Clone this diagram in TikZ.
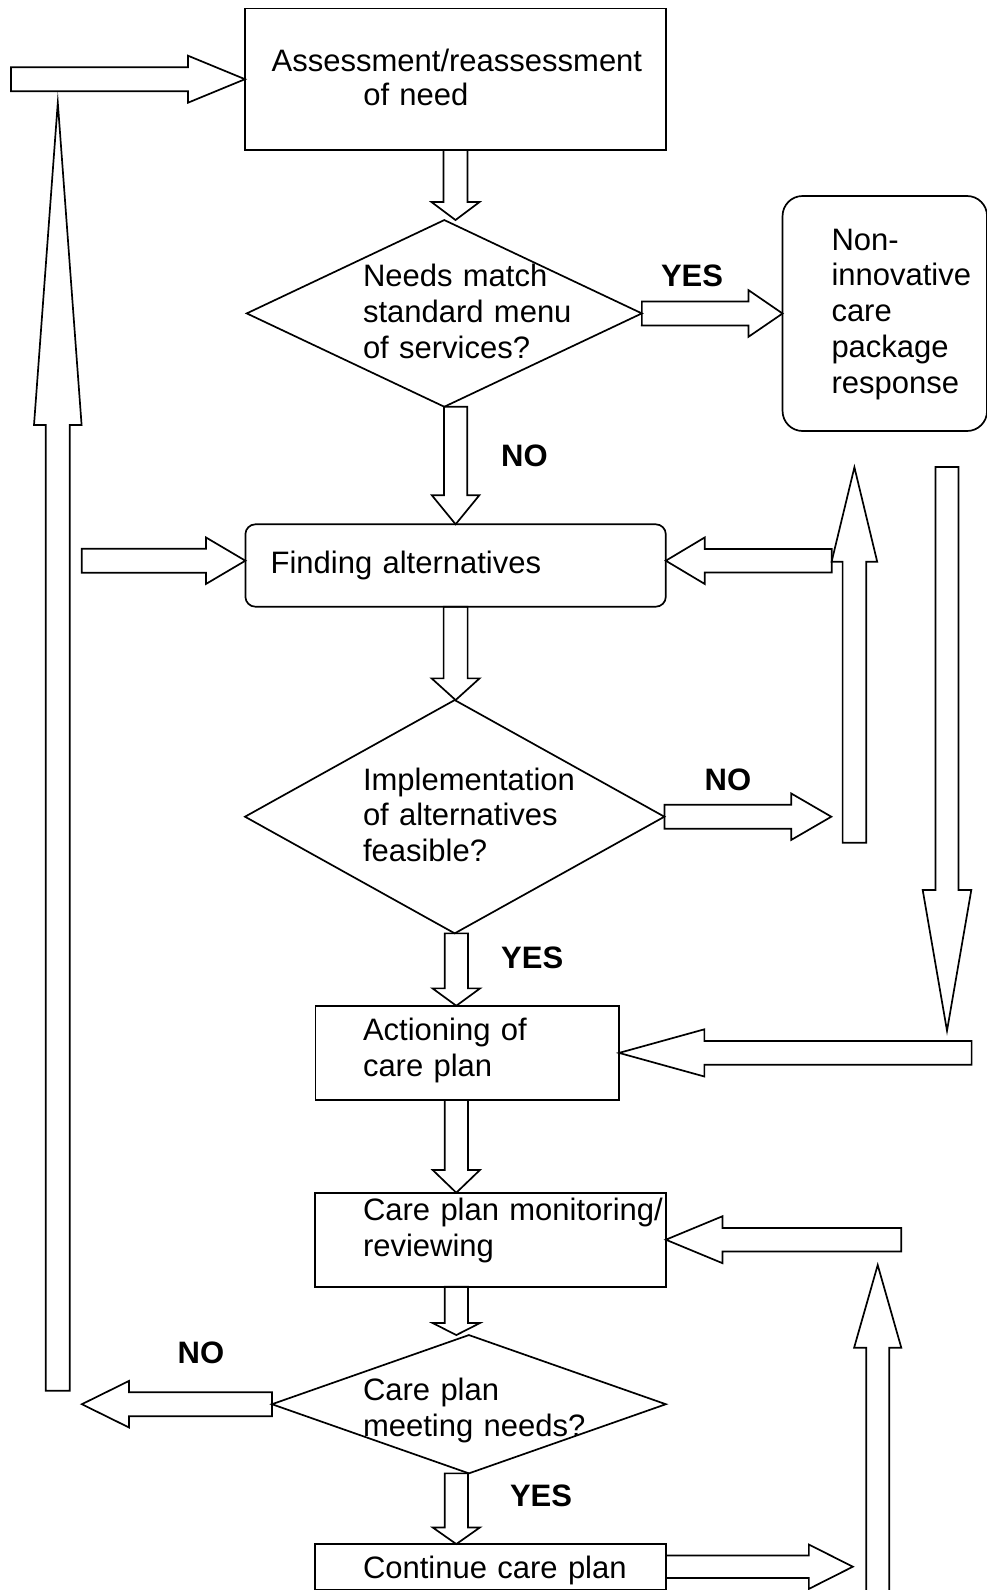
\documentclass[tikz,border=0pt]{standalone}
\usepackage{fontspec}
\setmainfont{Liberation Sans}
\usetikzlibrary{calc,shapes.geometric}

\tikzset{
  outline/.style={draw=black, line width=1.7pt, line join=miter, miter limit=25},
  plainbox/.style={outline, rectangle, inner sep=0pt, outer sep=0pt},
  roundbox/.style={plainbox, rounded corners=#1},
  decision/.style={outline, diamond, inner sep=0pt, outer sep=0pt},
  bodytext/.style={font=\fontsize{31}{36}\selectfont, inner sep=0pt, outer sep=0pt,
                   anchor=base west, align=left, text width=420pt},
  answer/.style={font=\bfseries\fontsize{31}{36}\selectfont, inner sep=0pt, anchor=base west},
}

% hollow block arrow: start, tip, shaft half-width, head half-width, head length
\newcommand\blockarrow[5]{%
  \path ($(#2)!#5pt!(#1)$) coordinate (headbase);
  \draw[outline] ($(#1)!#3pt!90:(#2)$) -- ($(headbase)!#3pt!90:(#2)$)
    -- ($(headbase)!#4pt!90:(#2)$) -- (#2) -- ($(headbase)!#4pt!-90:(#2)$)
    -- ($(headbase)!#3pt!-90:(#2)$) -- ($(#1)!#3pt!-90:(#2)$) -- cycle;}

\begin{document}
\begin{tikzpicture}[x=1pt, y=-1pt]
\useasboundingbox (0,0) rectangle (987,1590);

% process steps and decisions
\node[plainbox, minimum width=421pt, minimum height=141.7pt] (assess) at (455.5,79.2) {};
\node[decision, minimum width=395.1pt, minimum height=186.7pt] (match) at (444.3,313.4) {};
\node[roundbox=20pt, minimum width=204.5pt, minimum height=235pt] (noninnov) at (884.8,313.5) {};
\node[roundbox=10pt, minimum width=420.4pt, minimum height=82.4pt] (finding) at (455.6,565.5) {};
\node[decision, minimum width=419.4pt, minimum height=233.3pt] (feasible) at (454.7,816.7) {};
\node[plainbox, minimum width=303.5pt, minimum height=94.3pt] (action) at (467.3,1052.9) {};
\node[plainbox, minimum width=351.1pt, minimum height=94pt] (monitor) at (490.3,1239.7) {};
\node[decision, minimum width=393.9pt, minimum height=138.3pt] (meeting) at (468.9,1404.2) {};
\node[plainbox, minimum width=351.1pt, minimum height=45.3pt] (continue) at (490.3,1566.7) {};

% texts of the steps
\node[bodytext, font=\fontsize{31}{33.3}\selectfont] (assesstext) at (271.7,71.7)
  {Assessment/reassessment\\\hspace*{91.6pt}of need};
\node[bodytext, font=\fontsize{31}{35.8}\selectfont] (matchtext) at (363,286.7)
  {Needs match\\standard menu\\of services?};
\node[bodytext, font=\fontsize{31}{35.75}\selectfont] (noninnovtext) at (831.5,250)
  {Non-\\innovative\\care\\package\\response};
\node[bodytext] (findingtext) at (270.6,573.3) {Finding alternatives};
\node[bodytext, font=\fontsize{31}{35.8}\selectfont] (feasibletext) at (363,790)
  {Implementation\\of alternatives\\feasible?};
\node[bodytext, font=\fontsize{31}{36.7}\selectfont] (actiontext) at (363,1040)
  {Actioning of\\care plan};
\node[bodytext] (monitortext) at (363,1220) {Care plan monitoring/\\reviewing};
\node[bodytext] (meetingtext) at (363,1400) {Care plan\\meeting needs?};
\node[bodytext] (continuetext) at (363,1578.3) {Continue care plan};

% answers on the branches
\node[answer] (yes1) at (660.8,286) {YES};
\node[answer] (no1) at (501,466) {NO};
\node[answer] (no2) at (704.5,790) {NO};
\node[answer] (yes2) at (501,968.3) {YES};
\node[answer] (no3) at (177.5,1363.3) {NO};
\node[answer] (yes3) at (509.8,1506.7) {YES};

% connector ends
\coordinate (colx) at (456.3,0);
\coordinate (feedin) at (11,79.2);
\coordinate (assessdrop) at (assess.south |- match.north);
\coordinate (matchout) at (finding.north |- match.south);
\coordinate (leftin) at (81.8,560.7);
\coordinate (findingwestin) at (finding.west |- leftin);
\coordinate (rightin) at (831.7,560.7);
\coordinate (findingeastin) at (finding.east |- rightin);
\coordinate (feasiblein) at (finding.south |- feasible.north);
\coordinate (feasnotip) at ($(feasible.east)+(166.9,0)$);
\coordinate (feasibleout) at (feasible.south -| colx);
\coordinate (actionin) at (action.north -| colx);
\coordinate (retrybottom) at (854.4,842.7);
\coordinate (retrytop) at (854.4,467.3);
\coordinate (bypasstop) at (947,467);
\coordinate (bypasstip) at (947,1030.7);
\coordinate (bypassin) at (971.6,1052.9);
\coordinate (actionout) at (action.south -| colx);
\coordinate (monitorin) at (monitor.north -| colx);
\coordinate (reviewin) at (901.2,1239.7);
\coordinate (loopbottom) at (877.7,1600);
\coordinate (looptop) at (877.7,1265);
\coordinate (monitorout) at (monitor.south -| colx);
\coordinate (meetingin) at (meeting.north -| colx);
\coordinate (reassesstip) at ($(meeting.west)+(-190.1,0)$);
\coordinate (reassessbottom) at (57.8,1390.7);
\coordinate (reassesstop) at (57.8,102.7);
\coordinate (meetingout) at (meeting.south -| colx);
\coordinate (continuein) at (continue.north -| colx);
\coordinate (continuetip) at ($(continue.east)+(187,0)$);

% block arrows
\blockarrow{feedin}{assess.west}{12}{23.5}{57}
\blockarrow{assess.south}{assessdrop}{12}{24}{18}
\blockarrow{match.east}{noninnov.west}{12}{23.3}{34}
\blockarrow{matchout}{finding.north}{11.6}{23.7}{29}
\blockarrow{leftin}{findingwestin}{12}{23.3}{39.5}
\blockarrow{rightin}{findingeastin}{11.8}{23.3}{39}
\blockarrow{finding.south}{feasiblein}{12}{24}{21.7}
\blockarrow{feasible.east}{feasnotip}{12}{23.2}{40}
\blockarrow{feasibleout}{actionin}{11.6}{23.8}{17.4}
\blockarrow{retrybottom}{retrytop}{11.8}{22.8}{94.4}
\blockarrow{bypasstop}{bypasstip}{11.5}{24.3}{140.7}
\blockarrow{bypassin}{action.east}{11.9}{23.6}{85.3}
\blockarrow{actionout}{monitorin}{11.6}{23.6}{22.7}
\blockarrow{reviewin}{monitor.east}{11.7}{23.5}{56.7}
\blockarrow{loopbottom}{looptop}{11.5}{23.6}{82.7}
\blockarrow{monitorout}{meetingin}{11.6}{23.6}{12}
\blockarrow{meeting.west}{reassesstip}{12}{23.3}{47.2}
\blockarrow{reassessbottom}{reassesstop}{12}{23.8}{322.3}
\blockarrow{meetingout}{continuein}{11.6}{23.6}{16.6}
\blockarrow{continue.east}{continuetip}{11.2}{22.2}{44}
\end{tikzpicture}
\end{document}
